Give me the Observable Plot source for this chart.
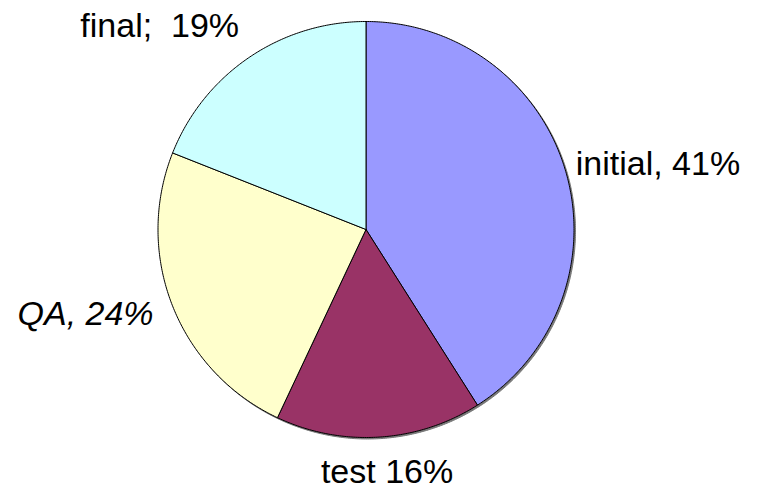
<!DOCTYPE html>
<html>
<head>
<meta charset="utf-8">
<script src="https://cdn.jsdelivr.net/npm/d3@7"></script>
<script src="https://cdn.jsdelivr.net/npm/@observablehq/plot@0.6"></script>
<style>
  html, body { margin: 0; padding: 0; background: #fff; }
  svg text { white-space: pre; }
</style>
</head>
<body>
<div id="chart"></div>
<script>
// ---- data ----
const categories = ["initial", "test", "QA", "final"];
const percents = [41, 16, 24, 19];
const labels = ["initial, 41%", "test 16%", "QA, 24%", "final;  19%"];
const colors = ["#9999FF", "#993366", "#FFFFCC", "#CCFFFF"];

// ---- layout ----
const W = 757, H = 491;
const CX = 365.5, CY = 229, R = 208; // pie centre / radius in px

const rows = categories.map((c, i) => ({cat: c, pct: percents[i], label: labels[i]}));
const arcs = d3.pie().sort(null).value(d => d.pct)(rows);

// polygon outline for each slice, in unit-radius coordinates (y up)
const pt = (a, r) => ({x: r * Math.sin(a), y: r * Math.cos(a)});
const slicePts = [];
for (const a of arcs) {
  const n = Math.max(2, Math.ceil((a.endAngle - a.startAngle) / (Math.PI / 360)));
  slicePts.push({cat: a.data.cat, x: 0, y: 0});
  for (let k = 0; k <= n; k++) {
    const ang = a.startAngle + (a.endAngle - a.startAngle) * k / n;
    slicePts.push({cat: a.data.cat, ...pt(ang, 1)});
  }
  slicePts.push({cat: a.data.cat, x: 0, y: 0});
}
const circlePts = d3.range(0, 721).map(k => ({...pt(k * Math.PI / 360, 1)}));

// label placement: anchor on the rim at mid-angle, nudged in px
const labelStyle = {
  initial: {textAnchor: "start", dx: 10, dy: -7, fontStyle: "normal"},
  test:    {textAnchor: "middle", dx: 8, dy: 35, fontStyle: "normal"},
  QA:      {textAnchor: "end", dx: -19, dy: 8, fontStyle: "italic"},
  final:   {textAnchor: "end", dx: -10, dy: -31, fontStyle: "normal"}
};
const labelMarks = arcs.map(a => {
  const mid = (a.startAngle + a.endAngle) / 2;
  const s = labelStyle[a.data.cat];
  return Plot.text([{...pt(mid, 1), label: a.data.label}], {
    x: "x", y: "y", text: "label",
    textAnchor: s.textAnchor, lineAnchor: "middle",
    dx: s.dx, dy: s.dy, fontStyle: s.fontStyle,
    fontSize: 34, fill: "black",
    fontFamily: "'Liberation Sans', Arial, sans-serif"
  });
});

const chart = Plot.plot({
  width: W, height: H,
  margin: 0,
  x: {domain: [-CX / R, (W - CX) / R], range: [0, W], axis: null},
  y: {domain: [-(H - CY) / R, CY / R], range: [H, 0], axis: null},
  color: {domain: categories, range: colors},
  style: {background: "#fff", overflow: "visible"},
  marks: [
    // soft shadow under the rim
    Plot.line(circlePts, {x: "x", y: "y", fill: "#777", stroke: "#777", strokeWidth: 1, dx: 1.5, dy: 1.5}),
    Plot.line(slicePts, {x: "x", y: "y", z: "cat", fill: "cat", stroke: "black",
      strokeWidth: 1, strokeLinejoin: "round", curve: "linear"}),
    ...labelMarks
  ]
});
document.getElementById("chart").appendChild(chart);
</script>
</body>
</html>
